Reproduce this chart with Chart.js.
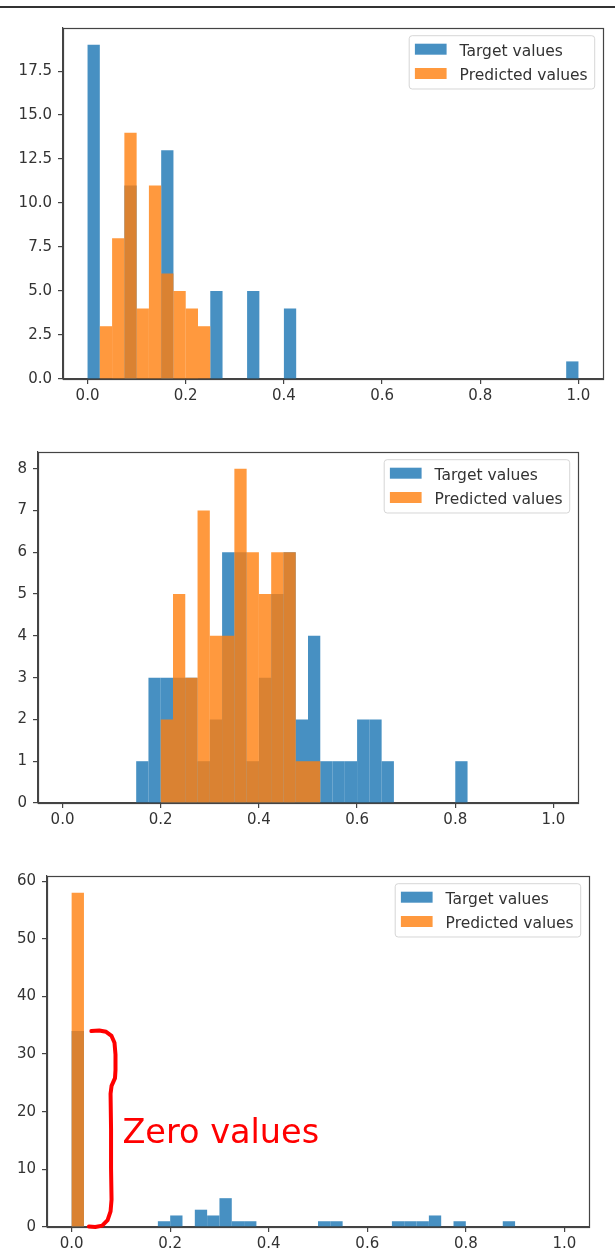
<!DOCTYPE html>
<html><head><meta charset="utf-8">
<script src="https://cdn.jsdelivr.net/npm/chart.js@4.4.1/dist/chart.umd.min.js"></script>
<style>
html,body{margin:0;padding:0;background:#fff;width:615px;height:1254px;overflow:hidden;position:relative;}
.sep{position:absolute;left:0;top:6px;width:615px;height:2px;background:#333;}
.box{position:absolute;left:0;width:615px;}
</style></head><body>
<div class="sep"></div>
<div class="box" style="top:0;height:424px"><canvas id="c1"></canvas></div>
<div class="box" style="top:424px;height:424px"><canvas id="c2"></canvas></div>
<div class="box" style="top:848px;height:406px"><canvas id="c3"></canvas></div>
<script>
// ---- data (40 equal bins on [0, 1]) ----
const BIN_COUNT = 40;
const BIN_WIDTH = 1 / BIN_COUNT;
const seriesLabels = ['Target values', 'Predicted values'];
const xTickValues = [0, 0.2, 0.4, 0.6, 0.8, 1.0];

const chart1Target    = [19,0,0,11,0,0,13,0,0,0, 5,0,0,5,0,0,4,0,0,0, 0,0,0,0,0,0,0,0,0,0, 0,0,0,0,0,0,0,0,0,1];
const chart1Predicted = [0,3,8,14,4,11,6,5,4,3, 0,0,0,0,0,0,0,0,0,0, 0,0,0,0,0,0,0,0,0,0, 0,0,0,0,0,0,0,0,0,0];
const chart1YTicks    = [0, 2.5, 5, 7.5, 10, 12.5, 15, 17.5];

const chart2Target    = [0,0,0,0,0,0,1,3,3,3, 3,1,2,6,6,1,3,5,6,2, 4,1,1,1,2,2,1,0,0,0, 0,0,1,0,0,0,0,0,0,0];
const chart2Predicted = [0,0,0,0,0,0,0,0,2,5, 3,7,4,4,8,6,5,6,6,1, 1,0,0,0,0,0,0,0,0,0, 0,0,0,0,0,0,0,0,0,0];
const chart2YTicks    = [0, 1, 2, 3, 4, 5, 6, 7, 8];

const chart3Target    = [34,0,0,0,0,0,0,1,2,0, 3,2,5,1,1,0,0,0,0,0, 1,1,0,0,0,0,1,1,1,2, 0,1,0,0,0,1,0,0,0,0];
const chart3Predicted = [58,0,0,0,0,0,0,0,0,0, 0,0,0,0,0,0,0,0,0,0, 0,0,0,0,0,0,0,0,0,0, 0,0,0,0,0,0,0,0,0,0];
const chart3YTicks    = [0, 10, 20, 30, 40, 50, 60];

const annotationText = 'Zero values';

// ---- styles ----
const FONT = '"DejaVu Sans", sans-serif';
const TICK_FONT_SIZE = 15;
const LEGEND_FONT_SIZE = 15.5;
const TEXT_COLOR = '#333';
const AXIS_COLOR = '#444';
const BLUE = 'rgba(31,119,180,0.82)';
const ORANGE = 'rgba(255,127,14,0.8)';

Chart.defaults.font.family = FONT;

const binData = arr => arr.map((v, i) => ({ x: (i + 0.5) * BIN_WIDTH, y: v }));

const framePlugin = {
  id: 'frame',
  afterDraw(chart) {
    const { ctx, chartArea: a } = chart;
    ctx.save();
    ctx.strokeStyle = AXIS_COLOR;
    ctx.lineWidth = 1.2;
    ctx.strokeRect(Math.round(a.left) + 0.5, Math.round(a.top) + 0.5,
                   Math.round(a.right - a.left), Math.round(a.bottom - a.top));
    ctx.restore();
  }
};

const legendPlugin = {
  id: 'mplLegend',
  afterDraw(chart) {
    const { ctx, chartArea: a } = chart;
    ctx.save();
    ctx.font = `${LEGEND_FONT_SIZE}px ${FONT}`;
    const items = chart.data.datasets;
    const textW = Math.max(...items.map(d => ctx.measureText(d.label).width));
    const padL = 5.7, handleW = 31.7, handleH = 11, gap = 13, padR = 7, rowH = 24.3, boxH = 53.3;
    const boxW = padL + handleW + gap + textW + padR;
    const x0 = a.right - 8.3 - boxW, y0 = a.top + 7.7;
    ctx.beginPath();
    ctx.roundRect(x0, y0, boxW, boxH, 3);
    ctx.fillStyle = 'rgba(255,255,255,0.8)';
    ctx.fill();
    ctx.strokeStyle = 'rgba(204,204,204,0.8)';
    ctx.lineWidth = 1;
    ctx.stroke();
    items.forEach((d, i) => {
      const cy = y0 + 13.5 + i * rowH;
      ctx.fillStyle = d.backgroundColor;
      ctx.fillRect(x0 + padL, cy - handleH / 2, handleW, handleH);
      ctx.fillStyle = TEXT_COLOR;
      ctx.textBaseline = 'alphabetic';
      ctx.textAlign = 'left';
      ctx.fillText(d.label, x0 + padL + handleW + gap, cy + 6.5);
    });
    ctx.restore();
  }
};

// hand-drawn brace + label on chart 3, placed in data units
const bracePoints = [[0.040,0.0],[0.056,-0.003],[0.070,0.004],[0.081,0.025],[0.087,0.06],[0.089,0.12],
  [0.089,0.2],[0.088,0.24],[0.081,0.28],[0.079,0.32],[0.080,0.5],[0.080,0.7],[0.081,0.86],[0.079,0.92],
  [0.073,0.965],[0.062,0.993],[0.048,1.0],[0.035,0.998]];
const zeroNotePlugin = {
  id: 'zeroNote',
  afterDraw(chart) {
    const { ctx } = chart;
    const xs = chart.scales.x, ys = chart.scales.y;
    const top = ys.getPixelForValue(chart3Target[0]);
    const bot = ys.getPixelForValue(0);
    ctx.save();
    ctx.strokeStyle = '#ff0000';
    ctx.lineWidth = 4;
    ctx.lineCap = 'round';
    ctx.lineJoin = 'round';
    ctx.beginPath();
    bracePoints.forEach(([xv, t], i) => {
      const px = xs.getPixelForValue(xv), py = top + t * (bot - top);
      if (i === 0) ctx.moveTo(px, py); else ctx.lineTo(px, py);
    });
    ctx.stroke();
    ctx.fillStyle = '#ff0000';
    ctx.font = `33.5px ${FONT}`;
    ctx.textBaseline = 'alphabetic';
    ctx.textAlign = 'left';
    ctx.fillText(annotationText, xs.getPixelForValue(0.103), ys.getPixelForValue(14.6));
    ctx.restore();
  }
};

function makeChart(id, target, predicted, yTicks, yMax, yDecimals, lay, extra) {
  const tickFont = { size: TICK_FONT_SIZE, family: FONT };
  const barStyle = { borderWidth: 0, inflateAmount: 0, grouped: false, barPercentage: 1, categoryPercentage: 1 };
  return new Chart(document.getElementById(id), {
    type: 'bar',
    data: {
      datasets: [
        Object.assign({ label: seriesLabels[0], data: binData(target), backgroundColor: BLUE, order: 2 }, barStyle),
        Object.assign({ label: seriesLabels[1], data: binData(predicted), backgroundColor: ORANGE, order: 1 }, barStyle)
      ]
    },
    options: {
      responsive: true, maintainAspectRatio: false, animation: false,
      devicePixelRatio: 1,
      layout: { padding: { left: 0, top: lay.top, right: lay.right, bottom: lay.bottom } },
      plugins: { legend: { display: false }, tooltip: { enabled: false } },
      scales: {
        x: {
          type: 'linear', min: -0.05, max: 1.05, offset: false,
          afterBuildTicks: s => { s.ticks = xTickValues.map(v => ({ value: v })); },
          ticks: { callback: v => Number(v).toFixed(1), font: tickFont, color: TEXT_COLOR, padding: 3,
                   maxRotation: 0, autoSkip: false },
          grid: { offset: false, drawOnChartArea: false, drawTicks: true, tickLength: 5, color: AXIS_COLOR, lineWidth: 1.2 },
          border: { display: true, color: AXIS_COLOR, width: 1.2 },
          afterFit: s => { s.height = lay.xh; }
        },
        y: {
          min: 0, max: yMax,
          afterBuildTicks: s => { s.ticks = yTicks.map(v => ({ value: v })); },
          ticks: { callback: v => Number(v).toFixed(yDecimals), font: tickFont, color: TEXT_COLOR, padding: 6,
                   autoSkip: false },
          grid: { offset: false, drawOnChartArea: false, drawTicks: true, tickLength: 5, color: AXIS_COLOR, lineWidth: 1.2 },
          border: { display: true, color: AXIS_COLOR, width: 1.2 },
          afterFit: s => { s.width = lay.yw; }
        }
      }
    },
    plugins: [framePlugin, legendPlugin].concat(extra || [])
  });
}

makeChart('c1', chart1Target, chart1Predicted, chart1YTicks, 19 * 1.05, 1,
  { top: 28, right: 12, bottom: 15, xh: 30, yw: 63 });
makeChart('c2', chart2Target, chart2Predicted, chart2YTicks, 8 * 1.05, 0,
  { top: 28, right: 37, bottom: 15, xh: 30, yw: 38 });
makeChart('c3', chart3Target, chart3Predicted, chart3YTicks, 58 * 1.05, 0,
  { top: 28, right: 26, bottom: 3, xh: 24, yw: 47 }, [zeroNotePlugin]);
</script>
</body></html>
